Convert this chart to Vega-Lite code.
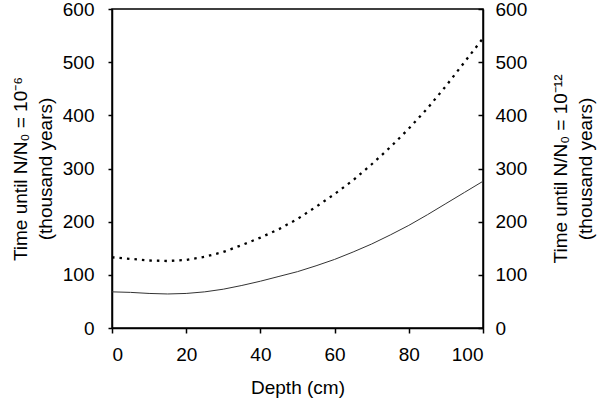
{
  "$schema": "https://vega.github.io/schema/vega-lite/v6.json",
  "autosize": "none",
  "width": 371,
  "height": 319,
  "padding": {"left": 112, "top": 9, "right": 117, "bottom": 78},
  "background": "white",
  "config": {
    "view": {"stroke": "black", "strokeWidth": 1.5},
    "font": "Liberation Sans",
    "axis": {
      "labelFont": "Liberation Sans",
      "titleFont": "Liberation Sans",
      "labelFontSize": 19,
      "titleFontSize": 19,
      "titleLineHeight": 25,
      "titleFontWeight": "normal",
      "labelColor": "black",
      "titleColor": "black",
      "domainColor": "black",
      "tickColor": "black",
      "domainWidth": 1.5,
      "tickWidth": 1.5,
      "grid": false
    }
  },
  "data": {
    "values": [
      {"depth": 0, "time": 68, "series": "a"},
      {"depth": 5, "time": 67, "series": "a"},
      {"depth": 10, "time": 65, "series": "a"},
      {"depth": 15, "time": 64, "series": "a"},
      {"depth": 20, "time": 65, "series": "a"},
      {"depth": 25, "time": 68, "series": "a"},
      {"depth": 30, "time": 73, "series": "a"},
      {"depth": 35, "time": 80, "series": "a"},
      {"depth": 40, "time": 88, "series": "a"},
      {"depth": 45, "time": 97, "series": "a"},
      {"depth": 50, "time": 106, "series": "a"},
      {"depth": 55, "time": 117, "series": "a"},
      {"depth": 60, "time": 129, "series": "a"},
      {"depth": 65, "time": 143, "series": "a"},
      {"depth": 70, "time": 158, "series": "a"},
      {"depth": 75, "time": 175, "series": "a"},
      {"depth": 80, "time": 193, "series": "a"},
      {"depth": 85, "time": 213, "series": "a"},
      {"depth": 90, "time": 234, "series": "a"},
      {"depth": 95, "time": 255, "series": "a"},
      {"depth": 100, "time": 276, "series": "a"},
      {"depth": 0, "time": 133, "series": "b"},
      {"depth": 5, "time": 130, "series": "b"},
      {"depth": 10, "time": 127, "series": "b"},
      {"depth": 15, "time": 126, "series": "b"},
      {"depth": 20, "time": 128, "series": "b"},
      {"depth": 25, "time": 134, "series": "b"},
      {"depth": 30, "time": 143, "series": "b"},
      {"depth": 35, "time": 156, "series": "b"},
      {"depth": 40, "time": 170, "series": "b"},
      {"depth": 45, "time": 186, "series": "b"},
      {"depth": 50, "time": 205, "series": "b"},
      {"depth": 55, "time": 228, "series": "b"},
      {"depth": 60, "time": 252, "series": "b"},
      {"depth": 65, "time": 278, "series": "b"},
      {"depth": 70, "time": 308, "series": "b"},
      {"depth": 75, "time": 340, "series": "b"},
      {"depth": 80, "time": 375, "series": "b"},
      {"depth": 85, "time": 413, "series": "b"},
      {"depth": 90, "time": 455, "series": "b"},
      {"depth": 95, "time": 500, "series": "b"},
      {"depth": 100, "time": 545, "series": "b"}
    ]
  },
  "encoding": {
    "x": {
      "field": "depth",
      "type": "quantitative",
      "scale": {"domain": [0, 100], "nice": false},
      "axis": {
        "title": "Depth (cm)",
        "values": [0, 20, 40, 60, 80, 100],
        "tickSize": 5,
        "labelPadding": 12,
        "titlePadding": 14
      }
    }
  },
  "layer": [
    {
      "transform": [{"filter": "datum.series === 'a'"}],
      "mark": {"type": "line", "color": "#333333", "strokeWidth": 1},
      "encoding": {
        "y": {
          "field": "time",
          "type": "quantitative",
          "scale": {"domain": [0, 600], "nice": false},
          "axis": {
            "orient": "left",
            "title": ["Time until N/N₀ = 10⁻⁶", "(thousand years)"],
            "values": [0, 100, 200, 300, 400, 500, 600],
            "tickSize": 4,
            "labelPadding": 14,
            "titlePadding": 7
          }
        }
      }
    },
    {
      "transform": [{"filter": "datum.series === 'b'"}],
      "mark": {"type": "line", "color": "black", "strokeWidth": 2.3, "strokeDash": [2.5, 5]},
      "encoding": {
        "y": {
          "field": "time",
          "type": "quantitative",
          "scale": {"domain": [0, 600], "nice": false},
          "axis": {
            "orient": "right",
            "title": ["Time until N/N₀ = 10⁻¹²", "(thousand years)"],
            "titleAngle": 270,
            "titleBaseline": "top",
            "values": [0, 100, 200, 300, 400, 500, 600],
            "tickSize": -5,
            "labelPadding": 17,
            "titlePadding": 0
          }
        }
      }
    }
  ],
  "resolve": {"scale": {"y": "independent"}}
}
